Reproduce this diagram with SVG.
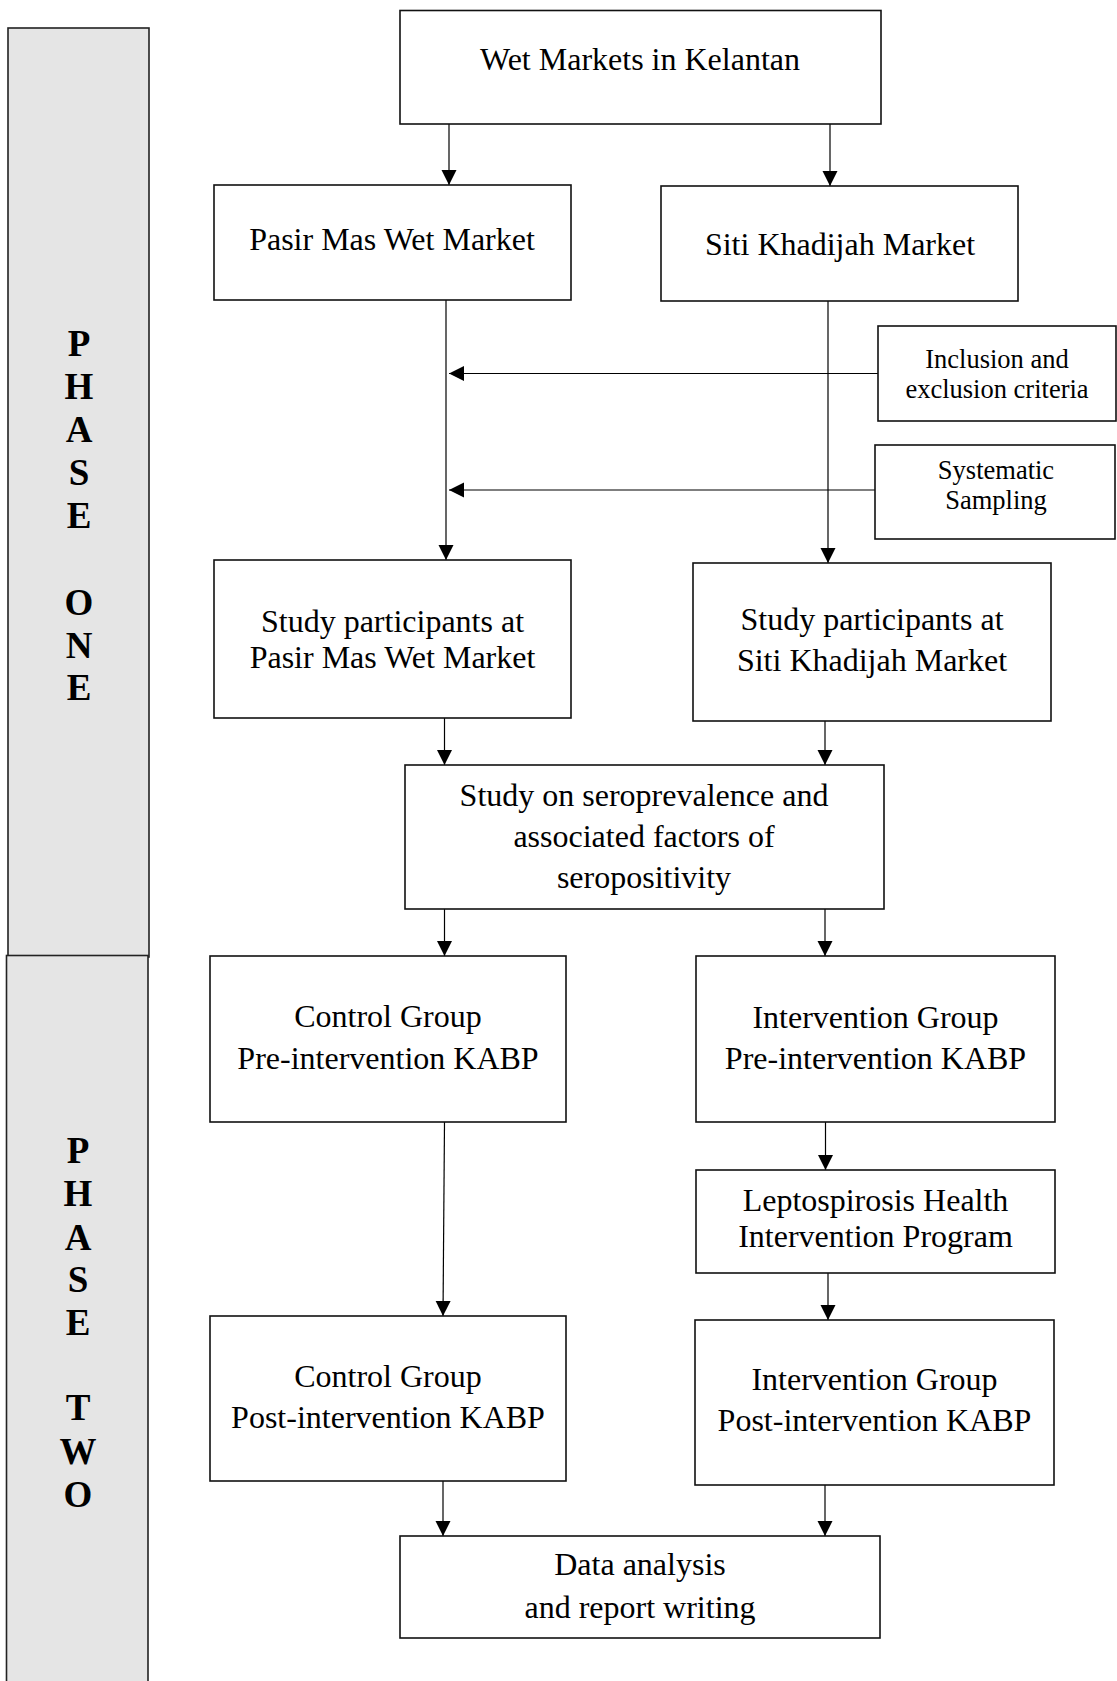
<svg xmlns="http://www.w3.org/2000/svg" width="1117" height="1681" viewBox="0 0 1117 1681">
<style>
.box{fill:#fff;stroke:#111;stroke-width:1.6}
.panel{fill:#e5e5e5;stroke:#222;stroke-width:1.6}
.t{font-family:"Liberation Serif","Times New Roman",serif;font-size:32px;fill:#000;text-anchor:middle}
.s{font-family:"Liberation Serif","Times New Roman",serif;font-size:26.5px;fill:#000;text-anchor:middle}
.ph{font-family:"Liberation Serif","Times New Roman",serif;font-size:37px;font-weight:bold;fill:#000;text-anchor:middle}
.c{fill:none;stroke:#000;stroke-width:1.2;marker-end:url(#ah)}
</style>
<defs>
<marker id="ah" markerUnits="userSpaceOnUse" markerWidth="16" markerHeight="16" refX="15" refY="7.5" orient="auto">
<path d="M0,0 L15,7.5 L0,15 z" fill="#000"/>
</marker>
</defs>
<rect width="1117" height="1681" fill="#fff"/>

<g id="phase-one">
<rect class="panel" x="8" y="28" width="141" height="929"/>
<text class="ph"><tspan x="79" y="356">P</tspan><tspan x="79" y="399">H</tspan><tspan x="79" y="442">A</tspan><tspan x="79" y="485">S</tspan><tspan x="79" y="528">E</tspan><tspan x="79" y="615">O</tspan><tspan x="79" y="658">N</tspan><tspan x="79" y="700">E</tspan></text>
</g>
<g id="phase-two">
<rect class="panel" x="6.5" y="955.5" width="141.5" height="740"/>
<text class="ph"><tspan x="78" y="1163">P</tspan><tspan x="78" y="1206">H</tspan><tspan x="78" y="1250">A</tspan><tspan x="78" y="1292">S</tspan><tspan x="78" y="1335">E</tspan><tspan x="78" y="1420">T</tspan><tspan x="78" y="1464">W</tspan><tspan x="78" y="1507">O</tspan></text>
</g>

<g id="connectors">
<line class="c" x1="449" y1="124" x2="449" y2="185"/>
<line class="c" x1="830" y1="124" x2="830" y2="186"/>
<line class="c" x1="446" y1="300" x2="446" y2="560"/>
<line class="c" x1="828" y1="301" x2="828" y2="563"/>
<line class="c" x1="878" y1="373.5" x2="449" y2="373.5"/>
<line class="c" x1="875" y1="490" x2="449" y2="490"/>
<line class="c" x1="444.5" y1="718" x2="444.5" y2="765"/>
<line class="c" x1="825" y1="721" x2="825" y2="765"/>
<line class="c" x1="444.5" y1="909" x2="444.5" y2="956"/>
<line class="c" x1="825" y1="909" x2="825" y2="956"/>
<line class="c" x1="444.5" y1="1122" x2="443" y2="1316"/>
<line class="c" x1="825.5" y1="1122" x2="825.5" y2="1170"/>
<line class="c" x1="828" y1="1273" x2="828" y2="1320"/>
<line class="c" x1="443" y1="1481" x2="443" y2="1536"/>
<line class="c" x1="825" y1="1485" x2="825" y2="1536"/>
</g>

<g id="wet-markets">
<rect class="box" x="400" y="10.5" width="481" height="113.5"/>
<text class="t" x="640" y="70">Wet Markets in Kelantan</text>
</g>
<g id="pasir-mas">
<rect class="box" x="214" y="185" width="357" height="115"/>
<text class="t" x="392" y="250">Pasir Mas Wet Market</text>
</g>
<g id="siti-khadijah">
<rect class="box" x="661" y="186" width="357" height="115"/>
<text class="t" x="840" y="255">Siti Khadijah Market</text>
</g>
<g id="inclusion">
<rect class="box" x="878" y="326" width="238" height="95"/>
<text class="s" x="997" y="368">Inclusion and</text>
<text class="s" x="997" y="398">exclusion criteria</text>
</g>
<g id="systematic">
<rect class="box" x="875" y="445" width="240" height="94"/>
<text class="s" x="996" y="479">Systematic</text>
<text class="s" x="996" y="509">Sampling</text>
</g>
<g id="participants-pasir">
<rect class="box" x="214" y="560" width="357" height="158"/>
<text class="t" x="392.5" y="632">Study participants at</text>
<text class="t" x="392.5" y="668">Pasir Mas Wet Market</text>
</g>
<g id="participants-siti">
<rect class="box" x="693" y="563" width="358" height="158"/>
<text class="t" x="872" y="630">Study participants at</text>
<text class="t" x="872" y="671">Siti Khadijah Market</text>
</g>
<g id="seroprevalence">
<rect class="box" x="405" y="765" width="479" height="144"/>
<text class="t" x="644" y="806">Study on seroprevalence and</text>
<text class="t" x="644" y="847">associated factors of</text>
<text class="t" x="644" y="888">seropositivity</text>
</g>
<g id="control-pre">
<rect class="box" x="210" y="956" width="356" height="166"/>
<text class="t" x="388" y="1027">Control Group</text>
<text class="t" x="388" y="1069">Pre-intervention KABP</text>
</g>
<g id="intervention-pre">
<rect class="box" x="696" y="956" width="359" height="166"/>
<text class="t" x="875.5" y="1028">Intervention Group</text>
<text class="t" x="875.5" y="1069">Pre-intervention KABP</text>
</g>
<g id="health-program">
<rect class="box" x="696" y="1170" width="359" height="103"/>
<text class="t" x="875.5" y="1211">Leptospirosis Health</text>
<text class="t" x="875.5" y="1247">Intervention Program</text>
</g>
<g id="control-post">
<rect class="box" x="210" y="1316" width="356" height="165"/>
<text class="t" x="388" y="1387">Control Group</text>
<text class="t" x="388" y="1428">Post-intervention KABP</text>
</g>
<g id="intervention-post">
<rect class="box" x="695" y="1320" width="359" height="165"/>
<text class="t" x="874.5" y="1390">Intervention Group</text>
<text class="t" x="874.5" y="1431">Post-intervention KABP</text>
</g>
<g id="data-analysis">
<rect class="box" x="400" y="1536" width="480" height="102"/>
<text class="t" x="640" y="1575">Data analysis</text>
<text class="t" x="640" y="1618">and report writing</text>
</g>
</svg>
